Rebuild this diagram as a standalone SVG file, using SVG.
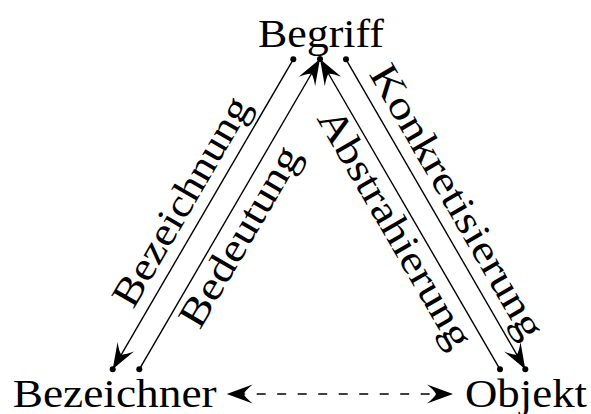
<svg xmlns="http://www.w3.org/2000/svg" width="591" height="414" viewBox="0 0 591 414">
  <style>
    text { font-family: "Liberation Serif", "Times New Roman", serif; font-size: 40px; fill: #000; }
    .edge { stroke: #000; stroke-width: 1.4; fill: none; }
    .dash { stroke-dasharray: 9 11.5; stroke-dashoffset: 11; }
    .dot { fill: #000; }
  </style>
  <defs>
    <marker id="stealth" markerUnits="userSpaceOnUse" orient="auto-start-reverse" markerWidth="30" markerHeight="24" refX="0" refY="0" viewBox="-28 -12 30 24" overflow="visible">
      <path d="M0,0 Q-11,-4 -26,-9.5 Q-18.5,-3.5 -17,0 Q-18.5,3.5 -26,9.5 Q-11,4 0,0 Z" fill="#000"/>
    </marker>
  </defs>

  <g id="begriff">
    <text x="258" y="46.5" textLength="126" lengthAdjust="spacingAndGlyphs">Begriff</text>
  </g>
  <g id="bezeichner">
    <text x="12.7" y="406.5" textLength="204" lengthAdjust="spacingAndGlyphs">Bezeichner</text>
  </g>
  <g id="objekt">
    <text x="465" y="406.5" textLength="122" lengthAdjust="spacingAndGlyphs">Objekt</text>
  </g>

  <g id="connectors">
    <!-- Bezeichnung: Begriff -> Bezeichner -->
    <line class="edge" x1="293.3" y1="59.3" x2="112.7" y2="369.3" marker-end="url(#stealth)"/>
    <!-- Bedeutung: Bezeichner -> Begriff -->
    <line class="edge" x1="139.3" y1="369.3" x2="320" y2="59" marker-end="url(#stealth)"/>
    <!-- Abstrahierung: Objekt -> Begriff -->
    <line class="edge" x1="500" y1="369.3" x2="320" y2="59" marker-end="url(#stealth)"/>
    <!-- Konkretisierung: Begriff -> Objekt -->
    <line class="edge" x1="346" y1="59.3" x2="525.3" y2="369.3" marker-end="url(#stealth)"/>
    <!-- Bezeichner <-> Objekt -->
    <line class="edge dash" x1="226.7" y1="394" x2="453" y2="394" marker-start="url(#stealth)" marker-end="url(#stealth)"/>

    <circle class="dot" cx="293.3" cy="59.3" r="3"/>
    <circle class="dot" cx="320" cy="59" r="3"/>
    <circle class="dot" cx="346" cy="59.3" r="3"/>
    <circle class="dot" cx="112.7" cy="369.3" r="3"/>
    <circle class="dot" cx="139.3" cy="369.3" r="3"/>
    <circle class="dot" cx="500" cy="369.3" r="3"/>
    <circle class="dot" cx="525.3" cy="369.3" r="3"/>

    <text transform="translate(192.6,208) rotate(-59.86)" text-anchor="middle" textLength="236" lengthAdjust="spacingAndGlyphs">Bezeichnung</text>
    <text transform="translate(251,243) rotate(-59.72)" text-anchor="middle" textLength="203" lengthAdjust="spacingAndGlyphs">Bedeutung</text>
    <text transform="translate(384,235) rotate(59.86)" text-anchor="middle" textLength="270" lengthAdjust="spacingAndGlyphs">Abstrahierung</text>
    <text transform="translate(446,208) rotate(59.99)" text-anchor="middle" textLength="310" lengthAdjust="spacingAndGlyphs">Konkretisierung</text>
  </g>
</svg>
